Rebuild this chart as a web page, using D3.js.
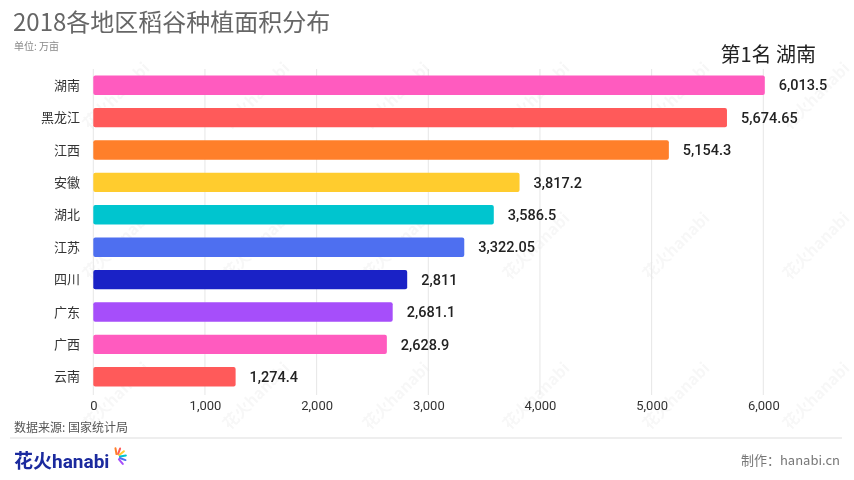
<!DOCTYPE html>
<html><head><meta charset="utf-8">
<script src="https://cdn.jsdelivr.net/npm/d3@7/dist/d3.min.js"></script>
<style>
html,body{margin:0;padding:0;background:#fff;}
svg{display:block;font-family:"Noto Sans CJK SC","Noto Sans",sans-serif;}
</style></head>
<body><svg id="c" width="854" height="480"></svg>
<script>
const categories = ["湖南","黑龙江","江西","安徽","湖北","江苏","四川","广东","广西","云南"];
const values = [6013.5,5674.65,5154.3,3817.2,3586.5,3322.05,2811,2681.1,2628.9,1274.4];
const valueLabels = ["6,013.5","5,674.65","5,154.3","3,817.2","3,586.5","3,322.05","2,811","2,681.1","2,628.9","1,274.4"];
const colors = ["#FF5BBF","#FF5A5A","#FF7F2A","#FFCC2E","#00C5CF","#4E6FF0","#1A22C6","#A64EFA","#FF5BBF","#FF5A5A"];
const ticks = [0,1000,2000,3000,4000,5000,6000];

const svg = d3.select("#c");
const x = d3.scaleLinear().domain([0,6000]).range([93.3,763.3]);
const y = d3.scaleBand().domain(categories).range([69,393]).paddingInner(0.4).paddingOuter(0.2);

// watermark
const wm = svg.append("g").attr("fill","#000").attr("opacity",0.035).attr("font-size",16).attr("font-weight",700);
for(let i=0;i<6;i++){for(let j=0;j<3;j++){
  const cx = 120 + i*140, cy = 100 + j*150;
  wm.append("text").attr("transform",`translate(${cx},${cy}) rotate(-45)`).attr("text-anchor","middle").text("花火hanabi");
}}

// gridlines
svg.append("g").selectAll("line").data(ticks).join("line")
  .attr("x1",d=>x(d)).attr("x2",d=>x(d)).attr("y1",69).attr("y2",395)
  .attr("stroke","#e6e6e6").attr("stroke-width",1);

// axis
const ax = svg.append("g").attr("transform","translate(0,395)")
  .call(d3.axisBottom(x).tickValues(ticks).tickFormat(d3.format(",")).tickSize(0).tickPadding(6));
ax.select(".domain").remove();
ax.selectAll("text").attr("font-size",13).attr("fill","#333").attr("font-family","Roboto,'Noto Sans',sans-serif");

// bars
svg.append("g").selectAll("rect").data(values).join("rect")
  .attr("x",x(0)).attr("y",(d,i)=>y(categories[i]))
  .attr("width",d=>x(d)-x(0)).attr("height",y.bandwidth())
  .attr("rx",2).attr("fill",(d,i)=>colors[i]);

// category labels
svg.append("g").selectAll("text").data(categories).join("text")
  .attr("x",80).attr("y",d=>y(d)+y.bandwidth()/2).attr("dy","0.35em")
  .attr("text-anchor","end").attr("font-size",13).attr("fill","#333").text(d=>d);

// value labels
svg.append("g").selectAll("text").data(values).join("text")
  .attr("x",d=>x(d)+14).attr("y",(d,i)=>y(categories[i])+y.bandwidth()/2).attr("dy","0.36em")
  .attr("font-size",14.5).attr("font-weight",500).attr("fill","#222")
  .attr("font-family","Roboto,'Noto Sans',sans-serif")
  .text((d,i)=>valueLabels[i]);

// title
svg.append("text").attr("x",13).attr("y",31).attr("font-size",24).attr("fill","#666").text("2018各地区稻谷种植面积分布");
svg.append("text").attr("x",14).attr("y",50).attr("font-size",10).attr("fill","#888").text("单位: 万亩");
svg.append("text").attr("x",816).attr("y",62).attr("text-anchor","end").attr("font-size",20).attr("fill","#222").text("第1名 湖南");

// footer
svg.append("text").attr("x",14).attr("y",432).attr("font-size",12).attr("fill","#555").text("数据来源: 国家统计局");
svg.append("line").attr("x1",10).attr("x2",842).attr("y1",438).attr("y2",438).attr("stroke","#ddd");
svg.append("text").attr("x",840).attr("y",465).attr("text-anchor","end").attr("font-size",13).attr("fill","#777").text("制作：hanabi.cn");

// logo
const lg = svg.append("g");
lg.append("text").attr("x",14).attr("y",468).attr("font-size",19).attr("font-weight",700).attr("fill","#1B2A9E").text("花火");
lg.append("text").attr("x",52).attr("y",468).attr("font-size",19).attr("font-weight",700).attr("fill","#1B2A9E")
  .attr("font-family","Roboto,sans-serif").text("hanabi");
const sparks = [["#FF5A5A",-70],["#FFCC2E",-40],["#00C5CF",-10],["#4E6FF0",20],["#A64EFA",50],["#FF7F2A",-100]];
sparks.forEach(([c,a])=>{
  const r = a*Math.PI/180, cx=117, cy=457;
  lg.append("line").attr("x1",cx+Math.cos(r)*3).attr("y1",cy+Math.sin(r)*3)
    .attr("x2",cx+Math.cos(r)*9).attr("y2",cy+Math.sin(r)*9)
    .attr("stroke",c).attr("stroke-width",2).attr("stroke-linecap","round");
});
</script></body></html>
